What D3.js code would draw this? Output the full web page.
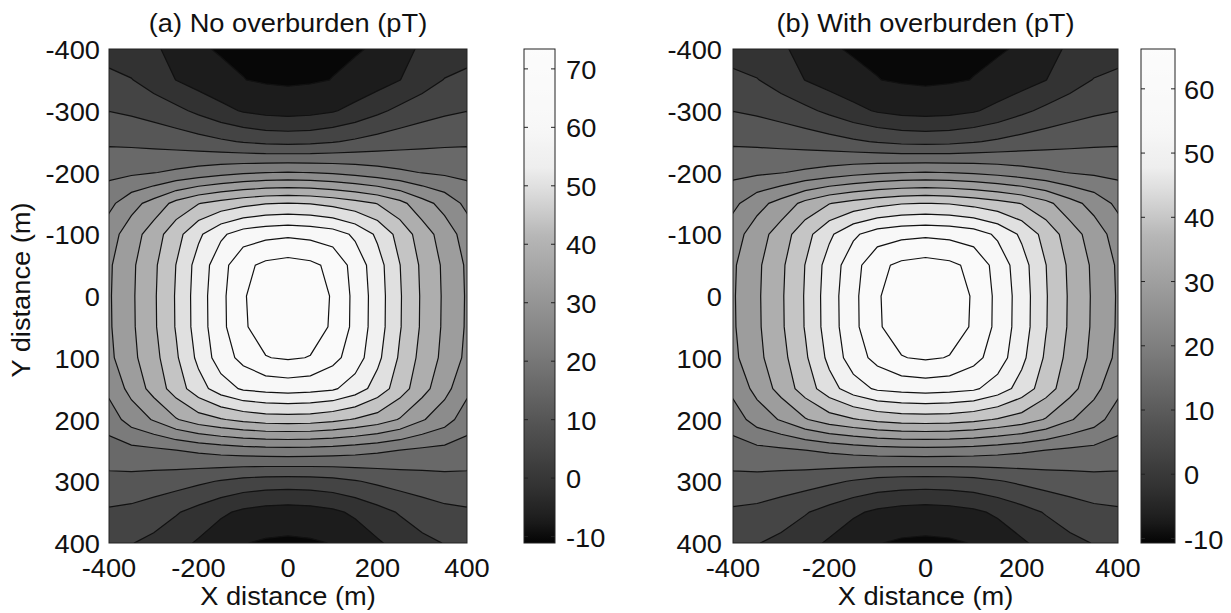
<!DOCTYPE html>
<html lang="en">
<head>
<meta charset="utf-8">
<title>Overburden contour maps</title>
<script src="https://d3js.org/d3.v7.min.js"></script>
<style>
    html, body { margin: 0; padding: 0; background: #fff; }
    svg { display: block; }
    text { font-family: "Liberation Sans", Arial, Helvetica, sans-serif; font-size: 25px; fill: #111; }
</style>
</head>
<body>
<svg id="chart" width="1231" height="613"></svg>
<script>
// grid positions (m) of the sampled field, rows go from y=-400 (top) to y=400
const gridX = [-400, -350, -300, -250, -200, -150, -100, -50, 0, 50, 100, 150, 200, 250, 300, 350, 400];
const gridY = [-400, -350, -300, -250, -200, -150, -100, -50, 0, 50, 100, 150, 200, 250, 300, 350, 400];

const xTicks = [-400, -200, 0, 200, 400];
const yTicks = [-400, -300, -200, -100, 0, 100, 200, 300, 400];

// (a) no overburden, pT
const titleA = "(a) No overburden (pT)";
const levelsA = [-10, -4.3, 1.4, 7.1, 12.9, 18.6, 24.3, 30, 35.7, 41.4, 47.1, 52.9, 58.6, 64.3, 70];
const cbDomainA = [-11.1, 73.4];
const cbTicksA = [-10, 0, 10, 20, 30, 40, 50, 60, 70];
const fieldA = [
    [-1.0, -1.9, -3.4, -6.2, -9.3, -10.5, -10.8, -11.0, -11.1, -11.0, -10.8, -10.5, -9.3, -6.2, -3.4, -1.9, -1.0],
    [2.9, 1.6, -1.2, -4.4, -6.8, -8.5, -9.9, -10.6, -10.9, -10.6, -9.9, -8.5, -6.8, -4.4, -1.2, 1.6, 2.9],
    [7.0, 6.1, 4.7, 2.8, 0.2, -2.6, -4.8, -6.0, -6.5, -6.0, -4.8, -2.6, 0.2, 2.8, 4.7, 6.1, 7.0],
    [12.1, 11.8, 11.2, 10.4, 9.3, 8.0, 6.7, 5.7, 5.4, 5.7, 6.7, 8.0, 9.3, 10.4, 11.2, 11.8, 12.1],
    [17.1, 17.6, 18.4, 19.6, 21.0, 22.4, 23.5, 24.2, 24.5, 24.2, 23.5, 22.4, 21.0, 19.6, 18.4, 17.6, 17.1],
    [22.8, 28.0, 32.1, 37.4, 41.2, 43.5, 45.4, 46.8, 47.3, 46.8, 45.4, 43.5, 41.2, 37.4, 32.1, 28.0, 22.8],
    [27.5, 33.0, 38.6, 45.0, 51.8, 57.6, 61.3, 62.7, 63.3, 62.7, 61.3, 57.6, 51.8, 45.0, 38.6, 33.0, 27.5],
    [29.2, 34.6, 40.3, 47.2, 55.3, 62.0, 68.6, 71.2, 72.2, 71.2, 68.6, 62.0, 55.3, 47.2, 40.3, 34.6, 29.2],
    [29.4, 34.8, 40.6, 47.6, 55.8, 62.7, 69.6, 72.4, 73.2, 72.4, 69.6, 62.7, 55.8, 47.6, 40.6, 34.8, 29.4],
    [29.3, 34.7, 40.5, 47.5, 55.7, 62.6, 69.4, 72.2, 73.0, 72.2, 69.4, 62.6, 55.7, 47.5, 40.5, 34.7, 29.3],
    [28.7, 34.2, 39.5, 46.3, 54.3, 61.5, 66.0, 69.8, 70.6, 69.8, 66.0, 61.5, 54.3, 46.3, 39.5, 34.2, 28.7],
    [25.8, 31.8, 37.8, 44.1, 50.5, 55.9, 59.4, 60.4, 61.0, 60.4, 59.4, 55.9, 50.5, 44.1, 37.8, 31.8, 25.8],
    [21.2, 26.8, 30.5, 35.3, 38.8, 41.0, 42.8, 44.1, 44.3, 44.1, 42.8, 41.0, 38.8, 35.3, 30.5, 26.8, 21.2],
    [16.2, 16.9, 17.5, 18.5, 19.6, 20.7, 21.5, 22.0, 22.2, 22.0, 21.5, 20.7, 19.6, 18.5, 17.5, 16.9, 16.2],
    [11.2, 11.1, 10.4, 9.5, 8.2, 6.7, 5.3, 4.6, 4.4, 4.6, 5.3, 6.7, 8.2, 9.5, 10.4, 11.1, 11.2],
    [6.3, 5.6, 4.0, 1.9, -0.6, -3.3, -5.4, -6.6, -7.0, -6.6, -5.4, -3.3, -0.6, 1.9, 4.0, 5.6, 6.3],
    [2.9, 1.6, 0.1, -2.3, -5.0, -8.0, -9.8, -10.6, -10.9, -10.6, -9.8, -8.0, -5.0, -2.3, 0.1, 1.6, 2.9]
];

// (b) with overburden, pT
const titleB = "(b) With overburden (pT)";
const levelsB = [-9.6, -4.4, 0.8, 6.0, 11.2, 16.4, 21.6, 26.8, 32.0, 37.2, 42.4, 47.6, 52.8, 58.0, 63.2];
const cbDomainB = [-10.7, 66.2];
const cbTicksB = [-10, 0, 10, 20, 30, 40, 50, 60];
const fieldB = [
    [-1.4, -2.2, -3.6, -6.1, -9.0, -10.1, -10.3, -10.5, -10.6, -10.5, -10.3, -10.1, -9.0, -6.1, -3.6, -2.2, -1.4],
    [2.1, 1.0, -1.6, -4.5, -6.7, -8.2, -9.5, -10.1, -10.4, -10.1, -9.5, -8.2, -6.7, -4.5, -1.6, 1.0, 2.1],
    [5.9, 5.1, 3.8, 2.0, -0.3, -2.9, -4.9, -6.0, -6.4, -6.0, -4.9, -2.9, -0.3, 2.0, 3.8, 5.1, 5.9],
    [10.5, 10.2, 9.7, 9.0, 8.0, 6.8, 5.6, 4.7, 4.4, 4.7, 5.6, 6.8, 8.0, 9.0, 9.7, 10.2, 10.5],
    [15.1, 15.5, 16.2, 17.3, 18.6, 19.9, 20.9, 21.5, 21.8, 21.5, 20.9, 19.9, 18.6, 17.3, 16.2, 15.5, 15.1],
    [20.3, 25.0, 28.7, 33.5, 37.0, 39.1, 40.8, 42.1, 42.5, 42.1, 40.8, 39.1, 37.0, 33.5, 28.7, 25.0, 20.3],
    [24.5, 29.5, 34.6, 40.5, 46.6, 51.9, 55.3, 56.6, 57.1, 56.6, 55.3, 51.9, 46.6, 40.5, 34.6, 29.5, 24.5],
    [26.1, 31.0, 36.2, 42.5, 49.8, 55.9, 61.9, 64.3, 65.2, 64.3, 61.9, 55.9, 49.8, 42.5, 36.2, 31.0, 26.1],
    [26.3, 31.2, 36.5, 42.8, 50.3, 56.6, 62.8, 65.4, 66.1, 65.4, 62.8, 56.6, 50.3, 42.8, 36.5, 31.2, 26.3],
    [26.2, 31.1, 36.4, 42.7, 50.2, 56.5, 62.7, 65.2, 65.9, 65.2, 62.7, 56.5, 50.2, 42.7, 36.4, 31.1, 26.2],
    [25.6, 30.6, 35.5, 41.6, 48.9, 55.5, 59.6, 63.0, 63.8, 63.0, 59.6, 55.5, 48.9, 41.6, 35.5, 30.6, 25.6],
    [23.0, 28.4, 33.9, 39.6, 45.5, 50.4, 53.6, 54.5, 55.0, 54.5, 53.6, 50.4, 45.5, 39.6, 33.9, 28.4, 23.0],
    [18.8, 23.9, 27.3, 31.6, 34.8, 36.8, 38.5, 39.6, 39.8, 39.6, 38.5, 36.8, 34.8, 31.6, 27.3, 23.9, 18.8],
    [14.2, 14.9, 15.4, 16.3, 17.3, 18.3, 19.1, 19.5, 19.7, 19.5, 19.1, 18.3, 17.3, 16.3, 15.4, 14.9, 14.2],
    [9.7, 9.6, 9.0, 8.2, 7.0, 5.6, 4.3, 3.7, 3.5, 3.7, 4.3, 5.6, 7.0, 8.2, 9.0, 9.6, 9.7],
    [5.2, 4.6, 3.1, 1.2, -1.1, -3.5, -5.4, -6.5, -6.9, -6.5, -5.4, -3.5, -1.1, 1.2, 3.1, 4.6, 5.2],
    [2.1, 1.0, -0.4, -2.6, -5.1, -7.8, -9.4, -10.2, -10.4, -10.2, -9.4, -7.8, -5.1, -2.6, -0.4, 1.0, 2.1]
];

const xLabel = "X distance (m)";
const yLabel = "Y distance (m)";

//gray colormap as it shows on the colorbars (fraction of range -> gray level)
const cmap = d3.scaleLinear()
    .domain([0, 0.05, 0.12, 0.25, 0.38, 0.5, 0.62, 0.7, 0.76, 0.85, 1])
    .range([4, 30, 52, 86, 122, 152, 182, 215, 238, 248, 252])
    .clamp(true);
const gray = t => { const g = Math.round(cmap(t)); return `rgb(${g},${g},${g})`; };

const svg = d3.select("#chart");
const defs = svg.append("defs");

//text is a little wider than tall in the original
function label(g, x, y, s, anchor, rotate) {
    return g.append("text")
        .attr("transform", `translate(${x},${y})${rotate ? " rotate(-90)" : ""} scale(1.09,1)`)
        .attr("text-anchor", anchor)
        .text(s);
}

const plotTop = 49, plotBottom = 543;

const panels = [
    { id: "a", title: titleA, field: fieldA, levels: levelsA, cbDomain: cbDomainA, cbTicks: cbTicksA,
      x0: 109, x1: 467, yLabelX: 100, cb0: 524, cb1: 555, cbLabelX: 566, showYTitle: true },
    { id: "b", title: titleB, field: fieldB, levels: levelsB, cbDomain: cbDomainB, cbTicks: cbTicksB,
      x0: 733, x1: 1118, yLabelX: 722, cb0: 1141, cb1: 1175, cbLabelX: 1184, showYTitle: false }
];

panels.forEach(p => {
    const g = svg.append("g");
    const xScale = d3.scaleLinear().domain([-400, 400]).range([p.x0, p.x1]);
    const yScale = d3.scaleLinear().domain([-400, 400]).range([plotTop, plotBottom]);

    // grid index -> metres (value i sits at i + 0.5 in d3.contours space)
    const gx = d3.scaleLinear().domain([0.5, gridX.length - 0.5]).range([gridX[0], gridX[gridX.length - 1]]);
    const gy = d3.scaleLinear().domain([0.5, gridY.length - 0.5]).range([gridY[0], gridY[gridY.length - 1]]);
    const path = d3.geoPath(d3.geoTransform({
        point(x, y) { this.stream.point(xScale(gx(x)), yScale(gy(y))); }
    }));

    const cbScale = d3.scaleLinear().domain(p.cbDomain).range([plotBottom, plotTop]);
    const tOf = v => (v - p.cbDomain[0]) / (p.cbDomain[1] - p.cbDomain[0]);

    const contours = d3.contours()
        .size([gridX.length, gridY.length])
        .thresholds(p.levels)(p.field.flat());

    defs.append("clipPath").attr("id", "clip-" + p.id)
        .append("rect")
        .attr("x", p.x0).attr("y", plotTop)
        .attr("width", p.x1 - p.x0).attr("height", plotBottom - plotTop);

    const plot = g.append("g").attr("clip-path", `url(#clip-${p.id})`);

    //lowest band
    plot.append("rect")
        .attr("x", p.x0).attr("y", plotTop)
        .attr("width", p.x1 - p.x0).attr("height", plotBottom - plotTop)
        .attr("fill", gray(tOf((p.cbDomain[0] + p.levels[0]) / 2)));

    plot.selectAll("path.band")
        .data(contours)
        .join("path")
        .attr("class", "band")
        .attr("d", path)
        .attr("fill", (d, i) => {
            const hi = i + 1 < p.levels.length ? p.levels[i + 1] : p.cbDomain[1];
            return gray(tOf((d.value + hi) / 2));
        })
        .attr("stroke", "none");

    plot.selectAll("path.line")
        .data(contours)
        .join("path")
        .attr("class", "line")
        .attr("d", path)
        .attr("fill", "none")
        .attr("stroke", "#111")
        .attr("stroke-width", 1.2);

    g.append("rect")
        .attr("x", p.x0).attr("y", plotTop)
        .attr("width", p.x1 - p.x0).attr("height", plotBottom - plotTop)
        .attr("fill", "none").attr("stroke", "#222").attr("stroke-width", 1);

    //tick labels
    xTicks.forEach(v => label(g, xScale(v), 577, v, "middle"));
    yTicks.forEach(v => label(g, p.yLabelX, yScale(v) + 10, v, "end"));

    //titles
    const cx = (p.x0 + p.x1) / 2;
    label(g, cx, 32, p.title, "middle");
    label(g, cx, 605, xLabel, "middle");
    if (p.showYTitle) label(g, 30, 290, yLabel, "middle", true);

    //colorbar
    const grad = defs.append("linearGradient")
        .attr("id", "grad-" + p.id)
        .attr("x1", 0).attr("y1", 1).attr("x2", 0).attr("y2", 0);
    d3.range(0, 1.0001, 0.02).forEach(t => {
        grad.append("stop").attr("offset", t).attr("stop-color", gray(t));
    });
    g.append("rect")
        .attr("x", p.cb0).attr("y", plotTop)
        .attr("width", p.cb1 - p.cb0).attr("height", plotBottom - plotTop)
        .attr("fill", `url(#grad-${p.id})`)
        .attr("stroke", "#222").attr("stroke-width", 1);

    p.cbTicks.forEach(v => {
        const y = cbScale(v);
        g.append("line").attr("x1", p.cb0).attr("x2", p.cb0 + 4).attr("y1", y).attr("y2", y)
            .attr("stroke", "#222").attr("stroke-width", 1);
        g.append("line").attr("x1", p.cb1 - 4).attr("x2", p.cb1).attr("y1", y).attr("y2", y)
            .attr("stroke", "#222").attr("stroke-width", 1);
        label(g, p.cbLabelX, y + 10, v, "start");
    });
});
</script>
</body>
</html>
